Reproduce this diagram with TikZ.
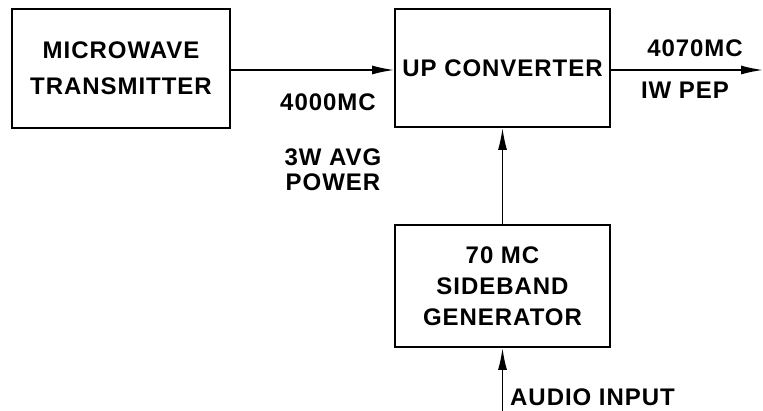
\documentclass[tikz,border=0pt]{standalone}
\usepackage{fontspec}
\setmainfont{Liberation Sans}[LetterSpace=4]
\usepackage{tikz}
\usetikzlibrary{arrows.meta,positioning}

\tikzset{
  blockbox/.style={draw, line width=1.8pt, align=center, font=\bfseries\fontsize{24}{36}\selectfont},
  sig/.style={-{Latex[length=22pt,width=9pt]}, line width=1.6pt},
  sigtext/.style={font=\bfseries\fontsize{24}{25}\selectfont, align=center, inner sep=0pt}
}

\begin{document}
\begin{tikzpicture}[x=1pt, y=-1pt]
    \useasboundingbox (0,0) rectangle (763,411);

    % blocks
    \node[blockbox, minimum width=218pt, minimum height=119pt] (mwtx) at (121,68.5) {MICROWAVE\\TRANSMITTER};
    \node[blockbox, minimum width=215pt, minimum height=118pt] (upconv) at (502.5,68) {UP CONVERTER};
    \node[blockbox, minimum width=215pt, minimum height=122pt,
          font=\bfseries\fontsize{24}{31}\selectfont] (sbgen) at (502.5,286) {70 MC\\SIDEBAND\\GENERATOR};

    % free ends
    \coordinate (rfout) at (763,70);
    \coordinate (audioin) at (502.5,411);

    % signal paths
    \draw[sig] (mwtx.east |- 0,70) -- (upconv.west |- 0,70);
    \draw[sig] (upconv.east |- 0,70) -- (rfout);
    \draw[sig] (sbgen.north) -- (upconv.south);
    \draw[sig] (audioin) -- (sbgen.south);

    % labels
    \node[sigtext] (lblin) at (328,102) {4000MC};
    \node[sigtext] (lblavg) at (333,170) {3W AVG\\POWER};
    \node[sigtext] (lblout) at (695,48) {4070MC};
    \node[sigtext] (lblpep) at (685,90) {IW PEP};
    \node[sigtext, anchor=west] (lblaudio) at (510,397) {AUDIO INPUT};
\end{tikzpicture}
\end{document}
